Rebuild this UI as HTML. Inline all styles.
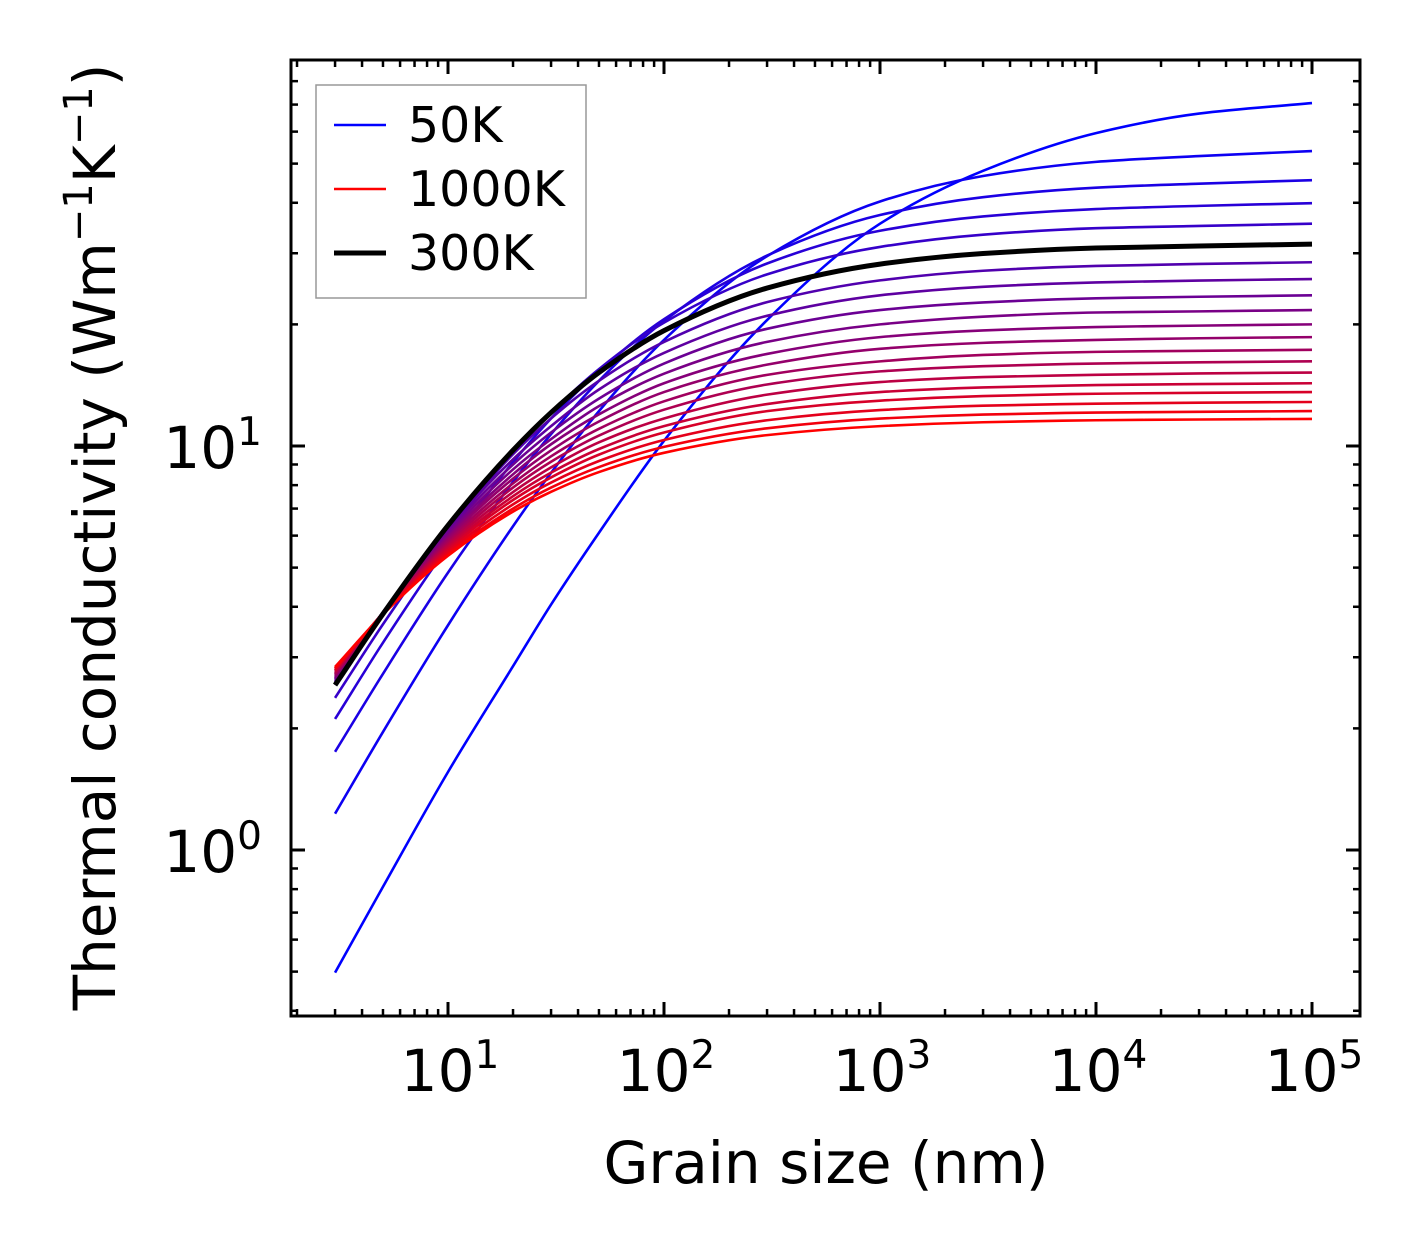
<!DOCTYPE html>
<html><head><meta charset="utf-8">
<style>
html,body{margin:0;padding:0;background:#fff;}
svg{display:block;font-family:"DejaVu Sans","Liberation Sans",sans-serif;}
</style></head>
<body>
<svg id="chart" width="1421" height="1254" viewBox="0 0 1421 1254" xmlns="http://www.w3.org/2000/svg">
<rect width="1421" height="1254" fill="#fff"/>
<g id="curves"></g>
<g id="ticks"></g>
<rect x="291" y="60" width="1069" height="956" fill="none" stroke="#000" stroke-width="3"/>
<g id="labels" font-size="58" fill="#000"></g>
<text x="826" y="1183" font-size="58" text-anchor="middle">Grain size (nm)</text>
<text transform="translate(115,537) rotate(-90)" font-size="58" text-anchor="middle">Thermal conductivity (Wm<tspan dy="-23" font-size="40">−1</tspan><tspan dy="23">K</tspan><tspan dy="-23" font-size="40">−1</tspan><tspan dy="23">)</tspan></text>
<g>
<rect x="316" y="85" width="270" height="213" fill="#fff" stroke="#999" stroke-width="1.5"/>
<line x1="334" y1="125" x2="386" y2="125" stroke="#0000ff" stroke-width="2.5"/>
<text x="408" y="142" font-size="49">50K</text>
<line x1="334" y1="189" x2="386" y2="189" stroke="#ff0000" stroke-width="2.5"/>
<text x="408" y="206" font-size="49">1000K</text>
<line x1="334" y1="253" x2="386" y2="253" stroke="#000" stroke-width="5"/>
<text x="408" y="270" font-size="49">300K</text>
</g>
</svg>
<script>
const grainSizes = [3, 5, 10, 20, 30, 50, 100, 300, 1000, 3000, 10000, 30000, 100000];
const temperatures = [50,100,150,200,250,300,350,400,450,500,550,600,650,700,750,800,850,900,950,1000];
const k50 = [0.497, 0.811, 1.56, 2.85, 4.05, 6.1, 10.3, 20.5, 35.5, 48.0, 59.5, 66.5, 70.6];
const k100 = [1.23, 1.96, 3.60, 6.33, 8.58, 12.2, 18.3, 29.5, 40.3, 46.6, 50.5, 52.2, 53.7];
const k150 = [1.75, 2.73, 4.86, 8.15, 10.7, 14.5, 20.4, 29.6, 37.3, 41.3, 43.6, 44.6, 45.5];
const k200 = [2.11, 3.26, 5.64, 9.12, 11.7, 15.3, 20.6, 28.3, 34.1, 37.0, 38.6, 39.3, 39.9];
const k250 = [2.38, 3.62, 6.11, 9.62, 12.1, 15.5, 20.2, 26.6, 31.1, 33.35, 34.6, 35.05, 35.5];
const k300 = [2.56, 3.84, 6.36, 9.76, 12.1, 15.2, 19.3, 24.6, 28.2, 29.95, 30.9, 31.26, 31.6];
const k350 = [2.60, 3.88, 6.32, 9.54, 11.7, 14.5, 18.1, 22.7, 25.7, 27.15, 27.9, 28.22, 28.5];
const k400 = [2.62, 3.88, 6.24, 9.27, 11.2, 13.8, 17.0, 21.0, 23.6, 24.78, 25.4, 25.67, 25.9];
const k450 = [2.64, 3.88, 6.15, 9.0, 10.8, 13.1, 16.0, 19.5, 21.7, 22.66, 23.2, 23.41, 23.6];
const k500 = [2.66, 3.87, 6.06, 8.75, 10.4, 12.55, 15.1, 18.1, 20.0, 20.9, 21.4, 21.54, 21.7];
const k550 = [2.68, 3.87, 5.98, 8.51, 10.1, 11.98, 14.3, 16.9, 18.6, 19.32, 19.7, 19.86, 20.0];
const k600 = [2.70, 3.87, 5.91, 8.30, 9.75, 11.5, 13.6, 15.9, 17.4, 18.0, 18.3, 18.48, 18.6];
const k650 = [2.72, 3.86, 5.83, 8.08, 9.43, 11.03, 12.9, 15.0, 16.2, 16.8, 17.1, 17.2, 17.3];
const k700 = [2.74, 3.86, 5.75, 7.89, 9.14, 10.61, 12.3, 14.2, 15.3, 15.76, 16.0, 16.11, 16.2];
const k750 = [2.76, 3.86, 5.68, 7.69, 8.85, 10.21, 11.7, 13.4, 14.4, 14.81, 15.0, 15.12, 15.2];
const k800 = [2.78, 3.86, 5.61, 7.51, 8.59, 9.83, 11.2, 12.7, 13.6, 13.96, 14.15, 14.23, 14.3];
const k850 = [2.79, 3.84, 5.54, 7.35, 8.36, 9.52, 10.8, 12.2, 12.95, 13.29, 13.47, 13.54, 13.6];
const k900 = [2.81, 3.84, 5.47, 7.17, 8.12, 9.18, 10.35, 11.58, 12.27, 12.58, 12.73, 12.8, 12.85];
const k950 = [2.82, 3.83, 5.40, 7.0, 7.89, 8.87, 9.95, 11.06, 11.69, 11.96, 12.1, 12.15, 12.2];
const k1000 = [2.84, 3.83, 5.35, 6.88, 7.70, 8.62, 9.62, 10.64, 11.2, 11.45, 11.58, 11.63, 11.67];
const series = [k50,k100,k150,k200,k250,k300,k350,k400,k450,k500,k550,k600,k650,k700,k750,k800,k850,k900,k950,k1000];
const highlightTemp = 300;
const xTickExps = [1,2,3,4,5];
const yTickExps = [0,1];

const NS = "http://www.w3.org/2000/svg";
function xs(v){ return 448 + 216*(Math.log10(v) - 1); }
function ys(v){ return 446 - 404*(Math.log10(v) - 1); }

function pathFor(vals){
  const X = grainSizes.map(xs), Y = vals.map(ys);
  const n = X.length;
  const d = [], m = new Array(n);
  for(let i=0;i<n-1;i++) d.push((Y[i+1]-Y[i])/(X[i+1]-X[i]));
  m[0]=d[0]; m[n-1]=d[n-2];
  for(let i=1;i<n-1;i++){
    if(d[i-1]*d[i]<=0) m[i]=0;
    else{
      const h0=X[i]-X[i-1], h1=X[i+1]-X[i];
      const w1=2*h1+h0, w2=h1+2*h0;
      m[i]=(w1+w2)/(w1/d[i-1]+w2/d[i]);
    }
  }
  let s = "M"+X[0].toFixed(2)+","+Y[0].toFixed(2);
  for(let i=0;i<n-1;i++){
    const h = X[i+1]-X[i];
    s += " C"+(X[i]+h/3).toFixed(2)+","+(Y[i]+m[i]*h/3).toFixed(2)+" "+(X[i+1]-h/3).toFixed(2)+","+(Y[i+1]-m[i+1]*h/3).toFixed(2)+" "+X[i+1].toFixed(2)+","+Y[i+1].toFixed(2);
  }
  return s;
}

const cg = document.getElementById("curves");
const n = series.length;
let hiIdx = -1;
series.forEach((vals,i)=>{
  const t = i/(n-1);
  const r = Math.round(255*t), b = Math.round(255*(1-t));
  const path = document.createElementNS(NS,"path");
  path.setAttribute("d", pathFor(vals));
  path.setAttribute("fill","none");
  path.setAttribute("stroke","rgb("+r+",0,"+b+")");
  path.setAttribute("stroke-width","2.6");
  
  
  cg.appendChild(path);
  if(temperatures[i]===highlightTemp) hiIdx = i;
});
if(hiIdx>=0){
  const hp = document.createElementNS(NS,"path");
  hp.setAttribute("d", pathFor(series[hiIdx]));
  hp.setAttribute("fill","none");
  hp.setAttribute("stroke","#000");
  hp.setAttribute("stroke-width","5");
  
  
  cg.appendChild(hp);
}

const tg = document.getElementById("ticks");
function tick(x1,y1,x2,y2,w){
  const l = document.createElementNS(NS,"line");
  l.setAttribute("x1",x1);l.setAttribute("y1",y1);l.setAttribute("x2",x2);l.setAttribute("y2",y2);
  l.setAttribute("stroke","#000");l.setAttribute("stroke-width",w);
  
  
  tg.appendChild(l);
}
const L=291,R=1360,T=60,B=1016;
for(let e=0;e<=5;e++){
  for(let m=1;m<10;m++){
    const v = m*Math.pow(10,e);
    const x = xs(v);
    if(x<L+1||x>R-1) continue;
    const len = m===1?14:7, w = m===1?3:2.5;
    tick(x,B,x,B-len,w); tick(x,T,x,T+len,w);
  }
}
for(let e=-1;e<=1;e++){
  for(let m=1;m<10;m++){
    const v = m*Math.pow(10,e);
    const y = ys(v);
    if(y<T+1||y>B-1) continue;
    const len = m===1?14:7, w = m===1?3:2.5;
    tick(L,y,L+len,y,w); tick(R,y,R-len,y,w);
  }
}

const lg = document.getElementById("labels");
function label(x,y,exp,anchor,name){
  const t = document.createElementNS(NS,"text");
  t.setAttribute("x",x);t.setAttribute("y",y);t.setAttribute("text-anchor",anchor);
  
  
  t.innerHTML = '10<tspan dy="-23" font-size="39">'+exp+'</tspan>';
  lg.appendChild(t);
}
xTickExps.forEach(e=>label(xs(Math.pow(10,e))+2, 1091, e, "middle", "x-tick-label"));
yTickExps.forEach(e=>label(262, ys(Math.pow(10,e))+22, e, "end", "y-tick-label"));
</script>
</body></html>
